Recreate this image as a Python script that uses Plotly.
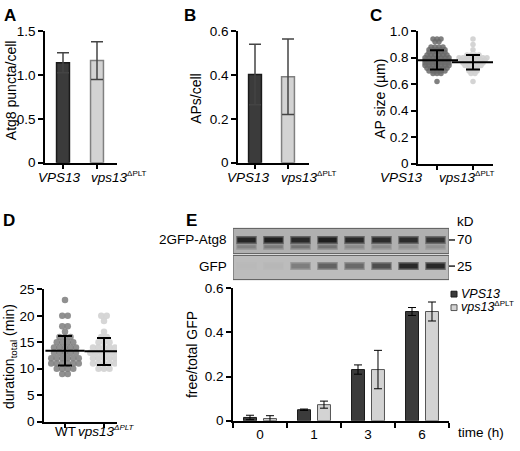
import plotly.graph_objects as go

W, H = 520, 451
FONT = 'Arial, Liberation Sans, sans-serif'
TXT = 13.5
TITLE = 14
DARK = '#3b3b3b'
LIGHT = '#d3d3d3'
SUP = '<sup><span style="font-size:8px">ΔPLT</span></sup>'

# ---- A: Atg8 puncta per cell ----
strain_ticks = ['<i>VPS13</i>', '<i>vps13</i>' + SUP]
puncta_mean = [1.14, 1.165]
puncta_sd = [0.115, 0.215]
puncta_yticks = [0, 0.5, 1.0, 1.5]
puncta_ytext = ['0', '0.5', '1.0', '1.5']

# ---- B: APs per cell ----
aps_mean = [0.402, 0.392]
aps_sd = [0.138, 0.172]
aps_yticks = [0, 0.2, 0.4, 0.6]
aps_ytext = ['0', '0.2', '0.4', '0.6']

# ---- C: AP size, dot plot rows (value, count) ----
size_vps13_vals = [0.94, 0.92, 0.88, 0.86, 0.84, 0.82, 0.80, 0.78, 0.76, 0.74, 0.72, 0.70, 0.68, 0.62]
size_vps13_counts = [3, 2, 4, 5, 5, 6, 7, 7, 7, 7, 6, 5, 3, 1]
size_plt_vals = [0.94, 0.90, 0.86, 0.82, 0.80, 0.78, 0.76, 0.74, 0.72, 0.70, 0.68, 0.62]
size_plt_counts = [1, 1, 1, 4, 8, 7, 6, 5, 3, 3, 2, 1]
size_mean = [0.78, 0.765]
size_lo = [0.71, 0.71]
size_hi = [0.855, 0.82]
size_yticks = [0, 0.2, 0.4, 0.6, 0.8, 1.0]
size_ytext = ['0', '0.2', '0.4', '0.6', '0.8', '1.0']

# ---- D: total duration (min) ----
dur_ticks = ['WT', '<i>vps13<sup><span style="font-size:8px">ΔPLT</span></sup></i>']
dur_wt_vals = [23, 20, 18, 17, 16, 15, 14, 13, 12, 11, 10, 9]
dur_wt_counts = [1, 2, 2, 1, 3, 4, 5, 5, 6, 6, 4, 2]
dur_plt_vals = [20, 19, 17, 16, 15, 14, 13, 12, 11, 10]
dur_plt_counts = [2, 1, 1, 2, 3, 5, 6, 5, 5, 3]
dur_mean = [13.4, 13.3]
dur_lo = [10.6, 10.7]
dur_hi = [16.2, 15.8]
dur_yticks = [0, 5, 10, 15, 20, 25]

# ---- E: free/total GFP ----
time_h = ['0', '1', '3', '6']
gfp_vps13 = [0.015, 0.050, 0.232, 0.495]
gfp_vps13_err = [0.010, 0.003, 0.021, 0.018]
gfp_plt = [0.010, 0.073, 0.232, 0.495]
gfp_plt_err = [0.013, 0.016, 0.087, 0.043]
gfp_yticks = [0, 0.2, 0.4, 0.6]
gfp_ytext = ['0', '0.2', '0.4', '0.6']

# blot band strength per lane (0 none .. 1 saturated)
lanes = [1, 2, 3, 4, 5, 6, 7, 8]
band_70 = [0.92, 0.97, 0.90, 0.97, 0.90, 0.88, 0.88, 0.82]
band_70_minor = [0.30, 0.35, 0.40, 0.40, 0.25, 0.25, 0.20, 0.20]
band_25 = [0.02, 0.03, 0.38, 0.55, 0.50, 0.68, 0.90, 0.90]


def xdom(a, b):
    return [a / W, b / W]


def ydom(top, bottom):
    return [1 - bottom / H, 1 - top / H]


def cat_range(d0, d1, c0, c1):
    """x range so that category 0 sits at pixel c0 and 1 at c1"""
    u = c1 - c0
    r0 = -(c0 - d0) / u
    return [r0, r0 + (d1 - d0) / u]


def swarm(vals, counts, center, step):
    xs, ys = [], []
    for v, n in zip(vals, counts):
        for i in range(n):
            xs.append(center + (i - (n - 1) / 2) * step)
            ys.append(v)
    return xs, ys


def gray(level, bg):
    g = int(round(bg - level * (bg - 25)))
    return f'rgb({g},{g},{g})'


axis_style = dict(
    showline=True, linecolor='black', linewidth=1.5, mirror=False,
    ticks='outside', ticklen=5, tickwidth=1.5, tickcolor='black',
    showgrid=False, zeroline=False, fixedrange=True,
    tickfont=dict(size=TXT, family=FONT, color='black'),
)
# group labels of A-D are drawn as annotations (they sit off-centre in the original)
x_style = dict(axis_style, tickangle=0, showticklabels=False, tickvals=[0, 1])

fig = go.Figure()

# A
fig.add_trace(go.Bar(
    x=[0, 1], y=puncta_mean, width=0.38, xaxis='x', yaxis='y',
    marker=dict(color=[DARK, LIGHT], line=dict(color=['#1a1a1a', '#808080'], width=1.5)),
    error_y=dict(type='data', array=puncta_sd, color='#444', thickness=1.5, width=6),
))
# B
fig.add_trace(go.Bar(
    x=[0, 1], y=aps_mean, width=0.39, xaxis='x2', yaxis='y2',
    marker=dict(color=[DARK, LIGHT], line=dict(color=['#1a1a1a', '#808080'], width=1.5)),
    error_y=dict(type='data', array=aps_sd, color='#444', thickness=1.5, width=6),
))

# C dot plot
c_step = 4 / 36
xs, ys = swarm(size_vps13_vals, size_vps13_counts, 0, c_step)
fig.add_trace(go.Scatter(x=xs, y=ys, mode='markers', xaxis='x3', yaxis='y3',
                         marker=dict(size=5.5, color='#6a6a6a', opacity=0.85)))
xs, ys = swarm(size_plt_vals, size_plt_counts, 1, c_step)
fig.add_trace(go.Scatter(x=xs, y=ys, mode='markers', xaxis='x3', yaxis='y3',
                         marker=dict(size=5.5, color='#cfcfcf', opacity=0.9)))
fig.add_trace(go.Scatter(
    x=[0, 1], y=size_mean, mode='markers', xaxis='x3', yaxis='y3',
    marker=dict(symbol='line-ew', size=30, line=dict(width=2, color='black')),
    error_y=dict(type='data', symmetric=False,
                 array=[h - m for h, m in zip(size_hi, size_mean)],
                 arrayminus=[m - l for m, l in zip(size_mean, size_lo)],
                 color='black', thickness=2, width=7),
))

# D dot plot
d_step = 5.5 / 39
xs, ys = swarm(dur_wt_vals, dur_wt_counts, 0, d_step)
fig.add_trace(go.Scatter(x=xs, y=ys, mode='markers', xaxis='x4', yaxis='y4',
                         marker=dict(size=6.5, color='#7c7c7c', opacity=0.85)))
xs, ys = swarm(dur_plt_vals, dur_plt_counts, 1, d_step)
fig.add_trace(go.Scatter(x=xs, y=ys, mode='markers', xaxis='x4', yaxis='y4',
                         marker=dict(size=6.5, color='#d2d2d2', opacity=0.9)))
fig.add_trace(go.Scatter(
    x=[0, 1], y=dur_mean, mode='markers', xaxis='x4', yaxis='y4',
    marker=dict(symbol='line-ew', size=28, line=dict(width=2, color='black')),
    error_y=dict(type='data', symmetric=False,
                 array=[h - m for h, m in zip(dur_hi, dur_mean)],
                 arrayminus=[m - l for m, l in zip(dur_mean, dur_lo)],
                 color='black', thickness=2, width=7),
))

# E bars
fig.add_trace(go.Bar(
    x=time_h, y=gfp_vps13, name='VPS13', xaxis='x5', yaxis='y5',
    marker=dict(color=DARK, line=dict(color='#1a1a1a', width=1)),
    error_y=dict(type='data', array=gfp_vps13_err, color='black', thickness=1, width=4),
))
fig.add_trace(go.Bar(
    x=time_h, y=gfp_plt, name='vps13ΔPLT', xaxis='x5', yaxis='y5',
    marker=dict(color=LIGHT, line=dict(color='#555', width=1)),
    error_y=dict(type='data', array=gfp_plt_err, color='black', thickness=1, width=4),
))

# blot bands (y6 in pixel units)
for lane, s70, s70m, s25 in zip(lanes, band_70, band_70_minor, band_25):
    for yb, s, bg, w in [(248, s70m, 176, 3), (241, s70, 176, 5), (268, s25, 188, 5)]:
        fig.add_trace(go.Scatter(x=[lane - 0.38, lane + 0.38], y=[yb, yb], mode='lines',
                                 xaxis='x6', yaxis='y6',
                                 line=dict(color=gray(s * 0.55, bg), width=w + 3)))
        fig.add_trace(go.Scatter(x=[lane - 0.34, lane + 0.34], y=[yb, yb], mode='lines',
                                 xaxis='x6', yaxis='y6',
                                 line=dict(color=gray(s, bg), width=w)))

fig.update_traces(showlegend=False, hoverinfo='skip')

layout = dict(
    width=W, height=H, margin=dict(l=0, r=0, t=0, b=0),
    paper_bgcolor='white', plot_bgcolor='white',
    font=dict(family=FONT, size=TXT, color='black'),
    barmode='group', bargap=0.26, bargroupgap=0.35,
    showlegend=False,
)
layout['xaxis'] = dict(x_style, domain=xdom(45, 117), anchor='y', range=cat_range(45, 117, 63, 97))
layout['yaxis'] = dict(axis_style, domain=ydom(25, 161), anchor='x', range=[0, 1.5],
                       tickvals=puncta_yticks, ticktext=puncta_ytext)
layout['xaxis2'] = dict(x_style, domain=xdom(238, 309), anchor='y2', range=cat_range(238, 309, 255, 288))
layout['yaxis2'] = dict(axis_style, domain=ydom(25, 161), anchor='x2', range=[0, 0.6],
                        tickvals=aps_yticks, ticktext=aps_ytext)
layout['xaxis3'] = dict(x_style, domain=xdom(418, 493), anchor='y3', range=cat_range(418, 493, 437, 473))
layout['yaxis3'] = dict(axis_style, domain=ydom(25, 162), anchor='x3', range=[0, 1.0],
                        tickvals=size_yticks, ticktext=size_ytext)
layout['xaxis4'] = dict(x_style, domain=xdom(44, 117), anchor='y4', range=cat_range(44, 117, 65, 104))
layout['yaxis4'] = dict(axis_style, domain=ydom(292, 429), anchor='x4', range=[0, 25],
                        tickvals=dur_yticks)
layout['xaxis5'] = dict(axis_style, tickangle=0, domain=xdom(233, 449), anchor='y5', type='category',
                        tickson='boundaries', range=[-0.5, 3.5])
layout['yaxis5'] = dict(axis_style, domain=ydom(291, 428), anchor='x5', range=[0, 0.6],
                        tickvals=gfp_yticks, ticktext=gfp_ytext)
layout['xaxis6'] = dict(domain=xdom(233, 449), anchor='y6', range=[0.5, 8.5], visible=False, fixedrange=True)
layout['yaxis6'] = dict(domain=ydom(228, 283), anchor='x6', range=[283, 228], visible=False, fixedrange=True)
fig.update_layout(**layout)

# blot membranes
fig.add_shape(type='rect', xref='x6', yref='y6', x0=0.5, x1=8.5, y0=229, y1=255,
              fillcolor='rgb(176,176,176)', line=dict(color='#666', width=1.2), layer='below')
fig.add_shape(type='rect', xref='x6', yref='y6', x0=0.5, x1=8.5, y0=257, y1=282,
              fillcolor='rgb(188,188,188)', line=dict(color='#666', width=1.2), layer='below')
# kD marker ticks
for yy in [241, 268]:
    fig.add_shape(type='line', xref='paper', yref='paper', x0=449 / W, x1=455 / W,
                  y0=1 - yy / H, y1=1 - yy / H, line=dict(color='black', width=1.3))

# legend for E
fig.add_shape(type='rect', xref='paper', yref='paper', x0=451 / W, x1=457 / W,
              y0=1 - 300 / H, y1=1 - 294 / H, fillcolor=DARK, line=dict(color='#1a1a1a', width=1))
fig.add_shape(type='rect', xref='paper', yref='paper', x0=451 / W, x1=457 / W,
              y0=1 - 314 / H, y1=1 - 308 / H, fillcolor=LIGHT, line=dict(color='#555', width=1))


def note(text, x, y, size=TXT, anchor='center', angle=0, bold=False, yanchor='middle'):
    if bold:
        text = f'<b>{text}</b>'
    fig.add_annotation(text=text, x=x / W, y=1 - y / H, xref='paper', yref='paper',
                       showarrow=False, xanchor=anchor, yanchor=yanchor, textangle=angle,
                       font=dict(size=size, family=FONT, color='black'))


# panel letters
note('A', 10, 9, 17, bold=True)
note('B', 190, 9, 17, bold=True)
note('C', 376, 9, 17, bold=True)
note('D', 9, 221, 17, bold=True)
note('E', 191, 221, 17, bold=True)

# axis titles
note('Atg8 puncta/cell', 11, 86, TITLE, angle=-90)
note('APs/cell', 196, 95, TITLE, angle=-90)
note('AP size (µm)', 380, 95, TITLE, angle=-90)
note('duration<sub>total</sub> (min)', 10, 362, TITLE, angle=-90)
note('free/total GFP', 192, 360, TITLE, angle=-90)
note('time (h)', 456, 440, anchor='left')

# group labels under A, B, C (bottom-anchored so the baselines line up)
for first_c, second_left in [(59, 89), (248, 279), (401, 437)]:
    note(strain_ticks[0], first_c, 186, yanchor='bottom')
    note(strain_ticks[1], second_left, 186, anchor='left', yanchor='bottom')
# group labels under D
note(dur_ticks[0], 65, 449, yanchor='bottom')
note(dur_ticks[1], 106, 449, yanchor='bottom')

# blot labels
note('2GFP-Atg8', 229, 241, anchor='right')
note('GFP', 229, 268, anchor='right')
note('kD', 455, 222, anchor='left')
note('70', 455, 241, anchor='left')
note('25', 455, 268, anchor='left')

# legend text
note('<i>VPS13</i>', 459, 297, size=12.5, anchor='left')
note('<i>vps13</i>' + SUP, 459, 310, size=12.5, anchor='left')

fig.write_html('out.html', config={'displayModeBar': False},
               post_script="document.body.style.margin='0px';")
